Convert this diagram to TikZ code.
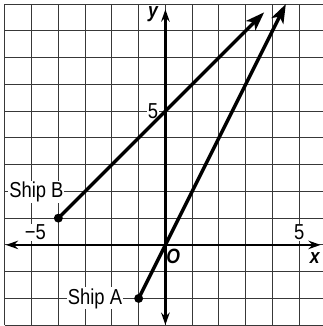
\documentclass[tikz,border=0pt]{standalone}
\usepackage{fontspec}
\setmainfont{Liberation Sans}[FakeStretch=0.85]
\usetikzlibrary{arrows.meta}
\tikzset{
  gridline/.style={draw=black!78, line width=1.05pt},
  axis/.style={line width=2.5pt, {Stealth[length=13pt,width=9pt]}-{Stealth[length=13pt,width=9pt]}},
  shipline/.style={line width=3.6pt, -{Stealth[length=20pt,width=14pt,inset=5pt]}},
  shipdot/.style={circle, fill=black, inner sep=0pt, minimum size=9.5pt},
  lbl/.style={fill=white, inner sep=1pt, font=\fontsize{23}{25}\selectfont},
  axlbl/.style={inner sep=1pt, font=\fontsize{22}{24}\selectfont\bfseries\itshape}
}
\begin{document}
\begin{tikzpicture}
\useasboundingbox (-6.18,-3.03) rectangle (5.88,9.15);
\draw[gridline] (-6,-3) grid (6,9);
% labels
\node[lbl] (lB) at (-4.82,1.97) {Ship B};
\node[lbl] (lA) at (-2.63,-2.0) {Ship A};
\node[lbl] (xm5) at (-4.86,0.47) {−5};
\node[lbl] (xp5) at (5.0,0.47) {5};
\node[lbl] (yp5) at (-0.46,5.0) {5};
\node[axlbl] (ylab) at (-0.46,8.63) {y};
\node[axlbl] (olab) at (0.29,-0.44) {O};
\node[axlbl] (xlab) at (5.58,-0.5) {x};
% axes
\coordinate (xl) at (-5.96,0);
\coordinate (xr) at (5.8,0);
\coordinate (yb) at (0,-2.99);
\coordinate (yt) at (0,8.8);
\draw[axis] (xl) -- (xr);
\draw[axis] (yb) -- (yt);
% ships
\node[shipdot] (B) at (-4,1) {};
\node[shipdot] (A) at (-1,-2) {};
\coordinate (tB) at (3.69,8.69);
\coordinate (tA) at (4.5,9.0);
\draw[shipline] (B.center) -- (tB);
\draw[shipline] (A.center) -- (tA);
\end{tikzpicture}
\end{document}
